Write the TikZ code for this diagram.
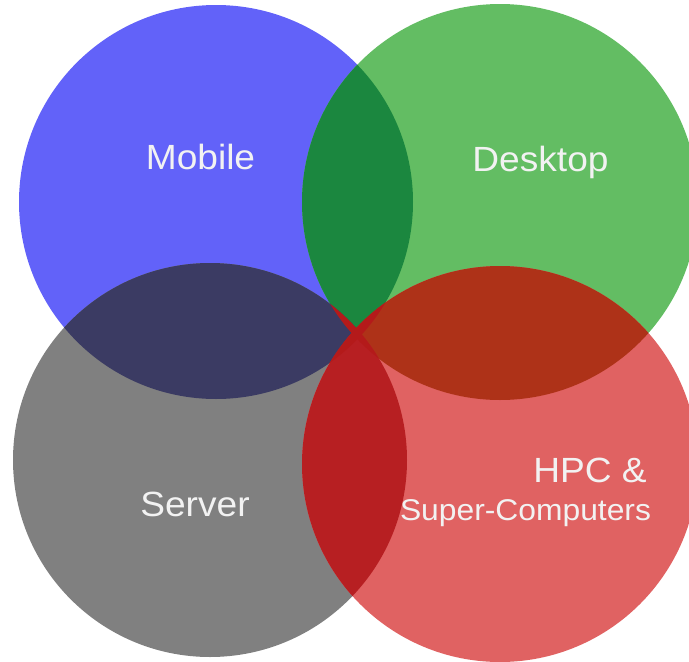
\documentclass[tikz,border=0pt]{standalone}
\usepackage{fontspec}
\setmainfont{Liberation Sans}
\definecolor{cblue}{HTML}{6262F9}
\definecolor{cgreen}{HTML}{63BD63}
\definecolor{cgray}{HTML}{808080}
\definecolor{cred}{HTML}{E06262}
\definecolor{cbg}{HTML}{1B873F}
\definecolor{cbgr}{HTML}{3B3B63}
\definecolor{cgr}{HTML}{AE3218}
\definecolor{cgrr}{HTML}{B71F22}
\definecolor{cmid}{HTML}{B41A1A}
\definecolor{ctext}{HTML}{F2F2F2}
\begin{document}
\begin{tikzpicture}[x=1pt,y=-1pt,
  biglabel/.style={text=ctext,anchor=base,inner sep=0pt,font=\fontsize{35}{40}\selectfont},
  smalllabel/.style={text=ctext,anchor=base,inner sep=0pt,font=\fontsize{30}{34}\selectfont}]
\useasboundingbox (0,0) rectangle (689,662);
\def\blueC{(216,202) circle[radius=197]}
\def\greenC{(500,202) circle[radius=198]}
\def\grayC{(210,460) circle[radius=197]}
\def\redC{(500,464) circle[radius=198]}
\begin{scope}
\clip (0,0) rectangle (689,662);
\fill[cblue] \blueC;
\fill[cgreen] \greenC;
\fill[cgray] \grayC;
\fill[cred] \redC;
\begin{scope}\clip \blueC; \fill[cbg] \greenC; \end{scope}
\begin{scope}\clip \blueC; \fill[cbgr] \grayC; \end{scope}
\begin{scope}\clip \greenC; \fill[cgr] \redC; \end{scope}
\begin{scope}\clip \grayC; \fill[cgrr] \redC; \end{scope}
\begin{scope}\clip \blueC; \fill[cmid] \redC; \end{scope}
\begin{scope}\clip \greenC; \fill[cmid] \grayC; \end{scope}
\end{scope}
\node[biglabel] (mobile) at (200.5,169) {\scalebox{1.06}[1]{Mobile}};
\node[biglabel] (desktop) at (540.5,171) {\scalebox{1.06}[1]{Desktop}};
\node[biglabel] (server) at (195,516) {\scalebox{1.06}[1]{Server}};
\node[biglabel] (hpc) at (590,482) {\scalebox{1.06}[1]{HPC \&}};
\node[smalllabel] (super) at (525.5,520) {\scalebox{1.06}[1]{Super-Computers}};
\end{tikzpicture}
\end{document}
